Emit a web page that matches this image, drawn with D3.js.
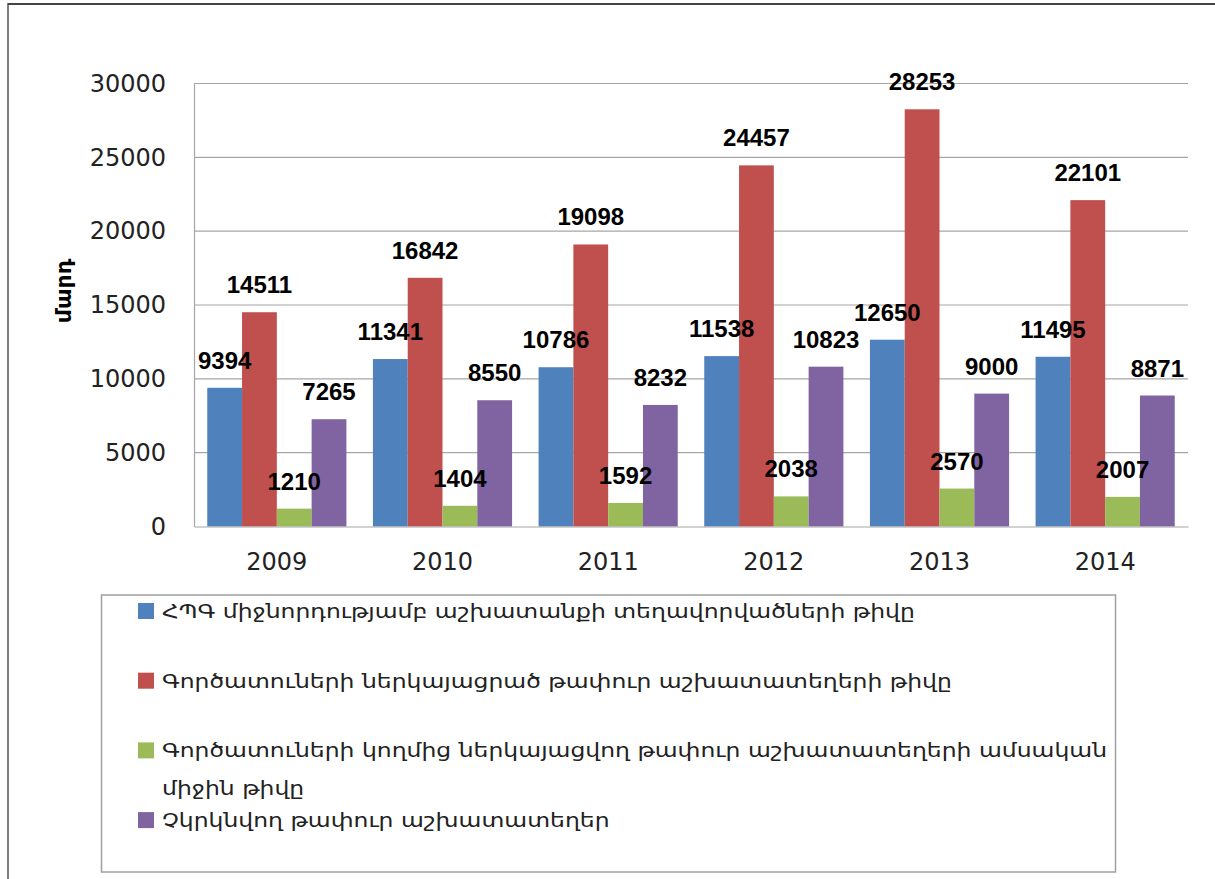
<!DOCTYPE html>
<html><head><meta charset="utf-8">
<script src="https://cdn.jsdelivr.net/npm/d3@7"></script>
<style>body{margin:0;background:#fff}</style></head>
<body>
<svg id="c" width="1215" height="879"></svg>
<script>
const years = ["2009", "2010", "2011", "2012", "2013", "2014"];
const placed = [9394, 11341, 10786, 11538, 12650, 11495];
const vacancies = [14511, 16842, 19098, 24457, 28253, 22101];
const avgVacancies = [1210, 1404, 1592, 2038, 2570, 2007];
const uniqueVacancies = [7265, 8550, 8232, 10823, 9000, 8871];
const yTicks = [0, 5000, 10000, 15000, 20000, 25000, 30000];
const yTitle = "մարդ";
const legendLines = [
  ["ՀՊԳ միջնորդությամբ աշխատանքի տեղավորվածների թիվը"],
  ["Գործատուների ներկայացրած թափուր աշխատատեղերի թիվը"],
  ["Գործատուների կողմից ներկայացվող թափուր աշխատատեղերի ամսական", "միջին թիվը"],
  ["Չկրկնվող թափուր աշխատատեղեր"]
];
const colors = ["#4F81BD", "#C0504D", "#9BBB59", "#8064A2"];

const series = [placed, vacancies, avgVacancies, uniqueVacancies];
const svg = d3.select("#c");

// outer frame
svg.append("path").attr("d", "M8,879 L8,4 L1215,4")
  .attr("fill", "none").attr("stroke", "#808080").attr("stroke-width", 2);
svg.append("line").attr("x1", 8).attr("x2", 1215).attr("y1", 4).attr("y2", 4)
  .attr("stroke", "#444").attr("stroke-width", 2);

const pLeft = 194, pRight = 1188, pTop = 83.5, pBottom = 526.5;
const x0 = d3.scaleBand().domain(years).range([pLeft, pRight]).paddingInner(0.16).paddingOuter(0.08);
const x1 = d3.scaleBand().domain(d3.range(series.length)).range([0, x0.bandwidth()]);
const y = d3.scaleLinear().domain([0, 30000]).range([pBottom, pTop]);

// gridlines
svg.append("g").selectAll("line").data(yTicks.filter(t => t > 0)).join("line")
  .attr("x1", pLeft).attr("x2", pRight).attr("y1", d => y(d)).attr("y2", d => y(d))
  .attr("stroke", "#a6a6a6").attr("stroke-width", 1.2);

// y axis
const yAxis = svg.append("g").attr("transform", `translate(${pLeft},0)`)
  .call(d3.axisLeft(y).tickValues(yTicks).tickSize(0).tickPadding(28).tickFormat(d3.format("d")));
yAxis.select(".domain").attr("stroke", "#a6a6a6").attr("stroke-width", 1.2);
yAxis.selectAll("text").attr("font-family", "DejaVu Sans").attr("font-size", 24).attr("fill", "#222");

// bars
const groups = svg.append("g").selectAll("g").data(years).join("g")
  .attr("transform", d => `translate(${x0(d)},0)`);
groups.selectAll("rect").data((yr, i) => series.map((s, k) => ({k, v: s[i]}))).join("rect")
  .attr("x", d => x1(d.k)).attr("width", x1.bandwidth())
  .attr("y", d => y(d.v)).attr("height", d => pBottom - y(d.v))
  .attr("fill", d => colors[d.k]);

// x axis
const xAxis = svg.append("g").attr("transform", `translate(0,${pBottom})`)
  .call(d3.axisBottom(x0).tickSize(0).tickPadding(26));
xAxis.select(".domain").attr("stroke", "#a6a6a6").attr("stroke-width", 1.2);
xAxis.selectAll("text").attr("font-family", "DejaVu Sans").attr("font-size", 24).attr("fill", "#222");

// labels
groups.selectAll("text.lbl").data((yr, i) => series.map((s, k) => ({k, v: s[i]}))).join("text")
  .attr("class", "lbl")
  .attr("x", d => x1(d.k) + x1.bandwidth() / 2).attr("y", d => y(d.v) - 19)
  .attr("text-anchor", "middle")
  .attr("font-family", "Liberation Sans").attr("font-weight", "bold").attr("font-size", 24)
  .attr("fill", "#000").text(d => d.v);

// y title
svg.append("text").attr("transform", "translate(71,291) rotate(-90)")
  .attr("text-anchor", "middle").attr("font-family", "DejaVu Sans").attr("font-weight", "bold")
  .attr("font-size", 22).attr("fill", "#000").text(yTitle);

// legend
svg.append("rect").attr("x", 101.5).attr("y", 595).attr("width", 1014).attr("height", 277)
  .attr("fill", "#fff").attr("stroke", "#a0a0a0").attr("stroke-width", 1.5);
const lg = svg.append("g");
const items = lg.selectAll("g").data(legendLines).join("g")
  .attr("transform", (d, i) => `translate(138,${603 + i * 69.7})`);
items.append("rect").attr("width", 16).attr("height", 16).attr("fill", (d, i) => colors[i]);
const texts = items.selectAll("text").data(d => d).join("text")
  .attr("x", 0).attr("y", (d, j) => 15 + j * 38)
  .attr("font-family", "DejaVu Sans").attr("font-size", 19).attr("fill", "#222")
  .text(d => d);
// horizontal condense to match
const natural = texts.nodes()[0].getComputedTextLength();
const sx = 753 / natural;
texts.attr("transform", `translate(24,0) scale(${sx},1)`);
</script>
</body></html>
